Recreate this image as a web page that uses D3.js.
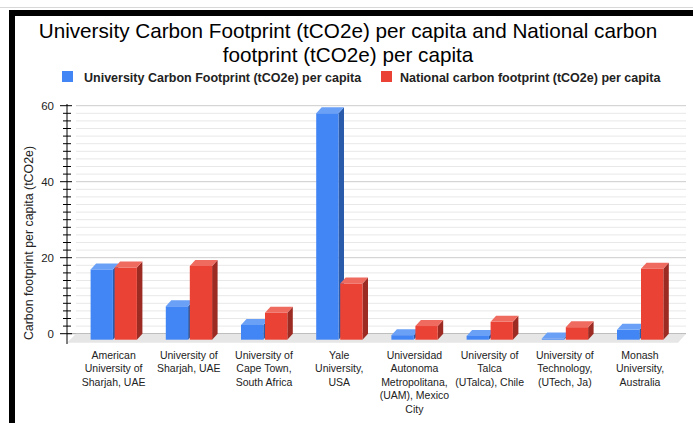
<!DOCTYPE html>
<html><head><meta charset="utf-8">
<script src="https://cdn.jsdelivr.net/npm/d3@7"></script>
<style>body{margin:0;background:#fff}svg{display:block;font-family:"Liberation Sans",Arial,sans-serif}</style>
</head><body>
<svg id="c" width="693" height="423"></svg>
<script>
const categories = [
  ["American","University of","Sharjah, UAE"],
  ["University of","Sharjah, UAE"],
  ["University of","Cape Town,","South Africa"],
  ["Yale","University,","USA"],
  ["Universidad","Autonoma","Metropolitana,","(UAM), Mexico","City"],
  ["University of","Talca","(UTalca), Chile"],
  ["University of","Technology,","(UTech, Ja)"],
  ["Monash","University,","Australia"]
];
const university = [18.5, 8.8, 3.9, 59.6, 1.2, 1.0, 0.3, 2.6];
const national = [19.0, 19.4, 7.1, 14.8, 3.6, 4.7, 3.3, 18.7];
const seriesNames = ["University Carbon Footprint (tCO2e) per capita","National carbon footprint (tCO2e) per capita"];
const yTicks = [0, 20, 40, 60];

const svg = d3.select("#c");
// frame
svg.append("line").attr("x1",0).attr("x2",693).attr("y1",7.5).attr("y2",7.5).attr("stroke","#d8d8d8");
svg.append("rect").attr("x",9).attr("y",10).attr("width",684).attr("height",6).attr("fill","#000");
svg.append("rect").attr("x",9).attr("y",10).attr("width",6).attr("height",413).attr("fill","#000");

// title
const title = svg.append("text").attr("text-anchor","middle").attr("font-size",20.7).attr("fill","#000");
title.append("tspan").attr("x",348).attr("y",38).text("University Carbon Footprint (tCO2e) per capita and National carbon");
title.append("tspan").attr("x",348).attr("y",62).text("footprint (tCO2e) per capita");

// legend
const colors = ["#4285F4","#EA4335"];
const sideColors = ["#2a5bab","#9c2b23"];
const topColors = ["#6aa1f7","#ef6a5f"];
const legX = [62, 381];
seriesNames.forEach((n,i)=>{
  svg.append("rect").attr("x",legX[i]).attr("y",71).attr("width",11).attr("height",11).attr("fill",colors[i]);
  svg.append("text").attr("x",legX[i]+22-(i?3:0)).attr("y",81.5).attr("font-size",12.5).attr("font-weight","bold").attr("fill","#222").text(n);
});

const dx = 5.5, dy = 6;
const y = d3.scaleLinear().domain([0,60]).range([333.7,105.7]);
const x = d3.scaleBand().domain(d3.range(categories.length)).range([76,677.6]);
const gx0 = 76, gx1 = 686;

// gridlines
const grid = svg.append("g");
d3.range(0,61,2).forEach(v=>{
  const major = v%20===0;
  grid.append("line").attr("x1",gx0).attr("x2",gx1).attr("y1",y(v)).attr("y2",y(v))
    .attr("stroke", v===0 ? "#9e9e9e" : (major ? "#cccccc" : "#e8e8e8")).attr("stroke-width",1);
});
svg.append("line").attr("x1",67).attr("x2",gx0).attr("y1",y(0)).attr("y2",y(0)).attr("stroke","#9e9e9e");
// floor
svg.append("path").attr("d",`M${gx0},${y(0)}L${gx1},${y(0)}L${gx1-8},${y(0)+9}L${gx0-9},${y(0)+9}Z`).attr("fill","#e6e6e6");

// y axis
const ax = svg.append("g");
ax.append("line").attr("x1",67).attr("x2",67).attr("y1",104).attr("y2",344).attr("stroke","#000");
d3.range(0,61,2).forEach(v=>{
  const major = v%20===0;
  ax.append("line").attr("x1",major?60:63).attr("x2",major?72:71).attr("y1",y(v)).attr("y2",y(v)).attr("stroke","#000");
});
yTicks.forEach(v=>{
  ax.append("text").attr("x",54).attr("y",y(v)+4).attr("text-anchor","end").attr("font-size",11.5).attr("fill","#222").text(v);
});
svg.append("text").attr("transform","translate(33,243) rotate(-90)").attr("text-anchor","middle")
  .attr("font-size",12.4).attr("fill","#222").text("Carbon footprint per capita (tCO2e)");

// bars
const bw = 22.3;
const data = [university, national];
const bars = svg.append("g");
categories.forEach((c,i)=>{
  const cx = x(i) + x.bandwidth()/2;
  data.forEach((arr,s)=>{
    const v = arr[i];
    const x0 = s===0 ? cx-23 : cx+1;
    const x1 = x0 + bw;
    const yb = y(v)+dy, yf0 = y(0)+dy;
    bars.append("path").attr("d",`M${x1},${yb}L${x1+dx},${yb-dy}L${x1+dx},${y(0)}L${x1},${yf0}Z`).attr("fill",sideColors[s]);
    bars.append("rect").attr("x",x0).attr("y",yb).attr("width",bw).attr("height",yf0-yb).attr("fill",colors[s]);
    bars.append("path").attr("d",`M${x0},${yb}L${x0+dx},${yb-dy}L${x1+dx},${yb-dy}L${x1},${yb}Z`).attr("fill",topColors[s]);
  });
  const t = svg.append("text").attr("text-anchor","middle").attr("font-size",10.5).attr("fill","#222");
  c.forEach((line,k)=>t.append("tspan").attr("x",cx).attr("y",359+k*13.4).text(line));
});
</script>
</body></html>
